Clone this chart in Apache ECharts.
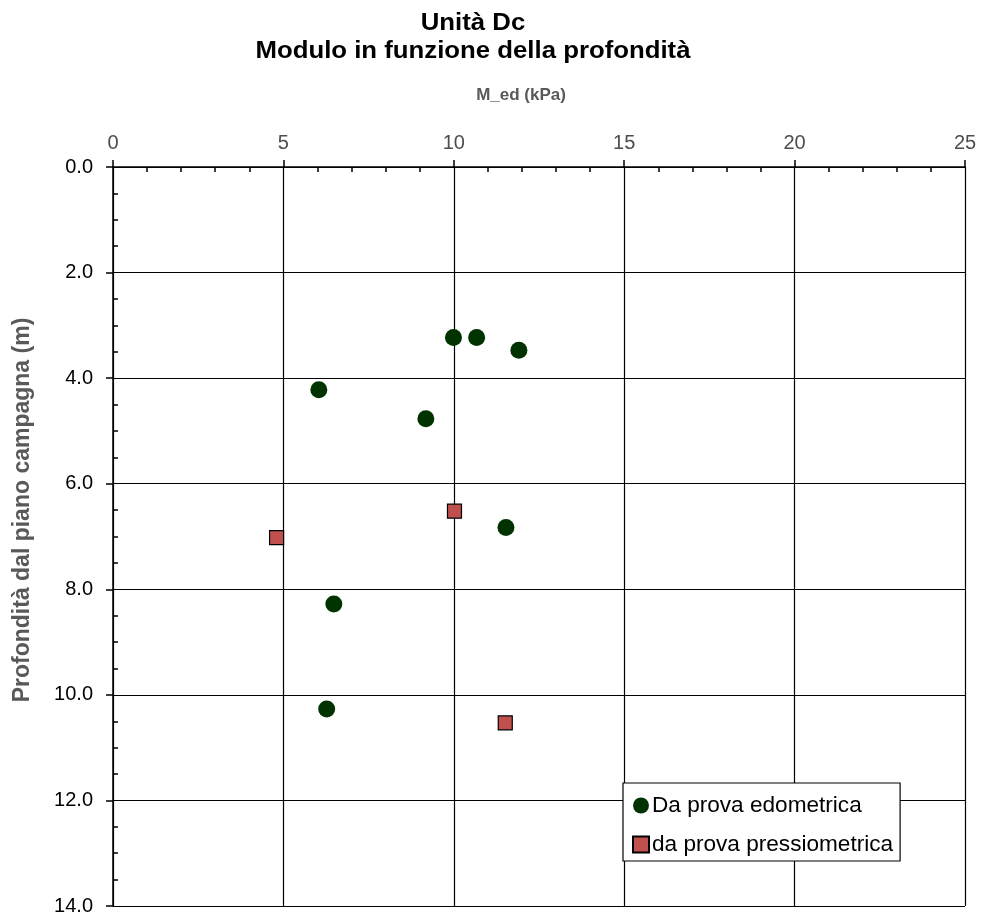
<!DOCTYPE html>
<html><head><meta charset="utf-8">
<script src="https://cdn.jsdelivr.net/npm/echarts@6/dist/echarts.min.js"></script>
<style>html,body{margin:0;padding:0;background:#fff}#c{width:982px;height:916px}</style>
</head><body><div id="c"></div>
<script>
const titleText = 'Unità Dc\nModulo in funzione della profondità';
const xName = 'M_ed (kPa)';
const yName = 'Profondità dal piano campagna (m)';
const seriesNames = ['Da prova edometrica', 'da prova pressiometrica'];
const edoModulo = [9.99, 10.67, 11.91, 6.04, 9.18, 11.53, 6.48, 6.27];
const edoProf   = [3.23, 3.23, 3.47, 4.22, 4.77, 6.83, 8.28, 10.27];
const pressModulo = [4.80, 10.02, 11.51];
const pressProf   = [7.02, 6.52, 10.53];

const FONT = '"Liberation Sans", Arial, sans-serif';
const chart = echarts.init(document.getElementById('c'));
const pairs = (xs, ys) => xs.map((v, i) => [v, ys[i]]);

const xBase = {type:'value', position:'top', min:0, max:25, interval:5};
const yBase = {type:'value', position:'left', inverse:true, min:0, max:14, interval:2};

chart.setOption({
  animation:false,
  backgroundColor:'#fff',
  grid:{left:113, right:17, top:167, bottom:10, containLabel:false},
  xAxis:[
    Object.assign({}, xBase, {
      axisLine:{show:true, onZero:false, lineStyle:{color:'#000', width:1.5}},
      axisTick:{show:true, inside:false, length:7, lineStyle:{color:'#000', width:1.5}},
      axisLabel:{fontFamily:FONT, fontSize:20, color:'#4d4d4d', margin:14},
      splitLine:{show:true, lineStyle:{color:'#000', width:1.2}}
    }),
    Object.assign({}, xBase, {
      axisLine:{show:false}, axisLabel:{show:false}, splitLine:{show:false},
      axisTick:{show:false, inside:true},
      minorTick:{show:true, splitNumber:5, length:5, lineStyle:{color:'#000', width:1.5}}
    })
  ],
  yAxis:[
    Object.assign({}, yBase, {
      axisLine:{show:true, onZero:false, lineStyle:{color:'#000', width:1.5}},
      axisTick:{show:true, inside:false, length:7, lineStyle:{color:'#000', width:1.5}},
      axisLabel:{fontFamily:FONT, fontSize:20, color:'#000', margin:20,
        formatter:v => v.toFixed(1)},
      splitLine:{show:true, lineStyle:{color:'#000', width:1.2}}
    }),
    Object.assign({}, yBase, {
      axisLine:{show:false}, axisLabel:{show:false}, splitLine:{show:false},
      axisTick:{show:false, inside:true},
      minorTick:{show:true, splitNumber:4, length:5, lineStyle:{color:'#000', width:1.5}}
    })
  ],
  graphic:[
    {type:'text', x:473, y:10, scaleX:1.12,
      style:{text:titleText, font:'bold 23px ' + FONT, fill:'#000',
        textAlign:'center', textVerticalAlign:'top', lineHeight:28}},
    {type:'text', x:521, y:95,
      style:{text:xName, font:'bold 17px ' + FONT, fill:'#595959',
        textAlign:'center', textVerticalAlign:'middle'}},
    {type:'text', x:23, y:510, rotation:Math.PI/2,
      style:{text:yName, font:'bold 23px ' + FONT, fill:'#595959',
        textAlign:'center', textVerticalAlign:'middle'}}
  ],
  legend:{
    orient:'vertical', left:623, top:783,
    backgroundColor:'#fff', borderColor:'#000', borderWidth:1.2, borderRadius:0,
    padding:[11, 7, 5, 9], itemGap:16, itemWidth:16, itemHeight:16,
    textStyle:{fontFamily:FONT, fontSize:22.6, color:'#000', padding:[0,0,0,-2]},
    data:[{name:seriesNames[0], icon:'circle'}, {name:seriesNames[1], icon:'rect'}]
  },
  series:[
    {name:seriesNames[0], type:'scatter', xAxisIndex:0, yAxisIndex:0,
      symbol:'circle', symbolSize:17,
      itemStyle:{color:'#003300', opacity:1},
      data:pairs(edoModulo, edoProf)},
    {name:seriesNames[1], type:'scatter', xAxisIndex:0, yAxisIndex:0,
      symbol:'rect', symbolSize:14,
      itemStyle:{color:'#c0504d', borderColor:'#000', borderWidth:1.2, opacity:1},
      data:pairs(pressModulo, pressProf)}
  ]
});
</script></body></html>
